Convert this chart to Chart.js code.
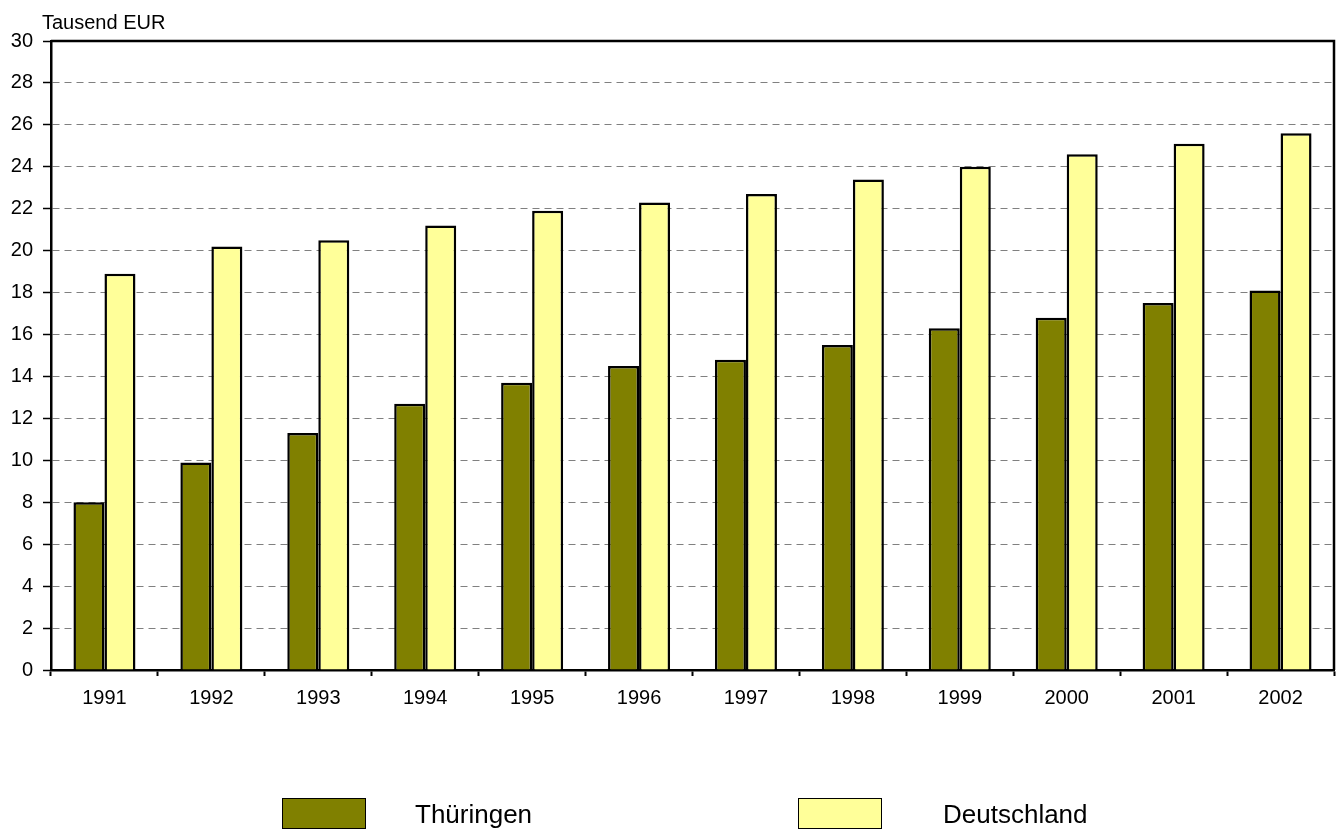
<!DOCTYPE html>
<html>
<head>
<meta charset="utf-8">
<script src="https://cdn.jsdelivr.net/npm/chart.js@4/dist/chart.umd.min.js"></script>
<style>
  body { margin: 0; background: #fff; }
  #wrap { position: relative; width: 1339px; height: 832px; }
  #legend { position: absolute; left: 0; top: 0; width: 1339px; height: 832px; pointer-events: none;
            font-family: "Liberation Sans", Arial, sans-serif; font-size: 26px; color: #000; }
  .box { position: absolute; width: 82px; height: 29px; border: 1.5px solid #000; top: 798px; }
  .lbl { position: absolute; top: 799px; line-height: 30px; }
</style>
</head>
<body>
<div id="wrap">
  <canvas id="chart" width="1339" height="832"></canvas>
  <div id="legend"></div>
</div>
<script>
// Bruttoinlandsprodukt je Erwerbstätigen, Tausend EUR
const years = ['1991','1992','1993','1994','1995','1996','1997','1998','1999','2000','2001','2002'];
const thueringen = [8.0, 9.9, 11.3, 12.7, 13.7, 14.5, 14.8, 15.5, 16.3, 16.8, 17.5, 18.1];
const deutschland = [18.9, 20.2, 20.5, 21.2, 21.9, 22.3, 22.7, 23.4, 24.0, 24.6, 25.1, 25.6];
const seriesNames = ['Thüringen', 'Deutschland'];
const seriesColors = ['#808000', '#FFFF99'];

const FONT = '"Liberation Sans", Arial, sans-serif';

// top + right frame and the unit label
const framePlugin = {
  id: 'frame',
  afterDraw(chart) {
    const {ctx, chartArea: a} = chart;
    ctx.save();
    ctx.strokeStyle = '#000';
    ctx.lineWidth = 2.5;
    ctx.beginPath();
    ctx.moveTo(a.left, a.top);
    ctx.lineTo(a.right, a.top);
    ctx.lineTo(a.right, a.bottom);
    ctx.stroke();
    ctx.fillStyle = '#000';
    ctx.font = '20px ' + FONT;
    ctx.textBaseline = 'alphabetic';
    ctx.fillText('Tausend EUR', 42, 29);
    ctx.restore();
  }
};

const config = {
  type: 'bar',
  data: {
    labels: years,
    datasets: [{
      label: seriesNames[0],
      data: thueringen,
      backgroundColor: seriesColors[0],
      borderColor: '#000',
      borderWidth: 2.5,
      borderSkipped: 'bottom'
    }, {
      label: seriesNames[1],
      data: deutschland,
      backgroundColor: seriesColors[1],
      borderColor: '#000',
      borderWidth: 2.5,
      borderSkipped: 'bottom'
    }]
  },
  options: {
    responsive: false,
    animation: false,
    layout: { padding: { top: 41, right: 5, bottom: 122, left: 0 } },
    datasets: { bar: { categoryPercentage: 0.58, barPercentage: 1.0 } },
    plugins: { legend: { display: false }, tooltip: { enabled: false } },
    scales: {
      x: {
        grid: { drawOnChartArea: false, tickLength: 6, tickColor: '#000', tickWidth: 2 },
        border: { color: '#000', width: 2.5 },
        ticks: { color: '#000', font: { family: FONT, size: 20 }, padding: 10, maxRotation: 0 },
        afterFit(s) { s.height = 40; }
      },
      y: {
        min: 0, max: 30,
        grid: { color: '#808080', lineWidth: 1, tickLength: 8, tickColor: '#000', tickWidth: 1.5 },
        border: { color: '#000', width: 2.5, dash: [7, 5] },
        ticks: { stepSize: 2, color: '#000', font: { family: FONT, size: 20 }, padding: 10 },
        afterFit(s) { s.width = 51; }
      }
    }
  },
  plugins: [framePlugin]
};

new Chart(document.getElementById('chart'), config);

// legend below the plot
const legendPos = [{box: 282, text: 415}, {box: 798, text: 943}];
const leg = document.getElementById('legend');
seriesNames.forEach((name, i) => {
  const b = document.createElement('div');
  b.className = 'box';
  b.style.left = legendPos[i].box + 'px';
  b.style.background = seriesColors[i];
  leg.appendChild(b);
  const t = document.createElement('div');
  t.className = 'lbl';
  t.style.left = legendPos[i].text + 'px';
  t.textContent = name;
  leg.appendChild(t);
});
</script>
</body>
</html>
